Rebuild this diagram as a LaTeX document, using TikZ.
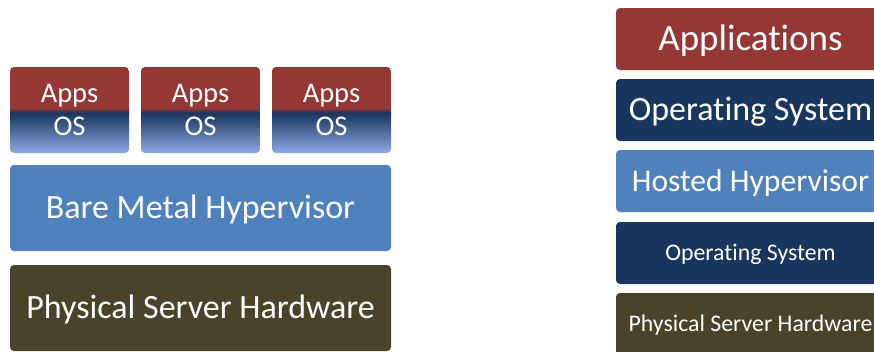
\documentclass[tikz,border=0pt]{standalone}
\usepackage{fontspec}
\setmainfont{Carlito}[RawFeature={-liga,-clig,-calt}]
\usetikzlibrary{positioning}

\definecolor{appsred}{RGB}{149,55,53}
\definecolor{osnavy}{RGB}{24,54,94}
\definecolor{hypblue}{RGB}{79,129,189}
\definecolor{hwolive}{RGB}{73,68,41}
\definecolor{vmlight}{RGB}{142,169,230}

\begin{document}
\begin{tikzpicture}[x=1pt,y=-1pt]

% Style for every layer of the two stacks, #1 = font size in pt
% (text height is the cap height, so the capitals sit in the middle)
\tikzset{layer/.style={rounded corners=4pt, text=white, inner sep=0pt,
  font=\fontsize{#1pt}{#1pt}\selectfont, text height=#1pt*0.644, text depth=0pt}}
\tikzset{vmtext/.style={text=white, anchor=base, inner sep=0pt,
  font=\fontsize{28.5pt}{28.5pt}\selectfont}}

\useasboundingbox (0,0) rectangle (874,351);
\clip (0,0) rectangle (874,351);

% One guest machine: Apps on top of its OS
\newcommand{\drawvm}[2]{
% #1 = left edge of the box
% #2 = suffix for the node names
\begin{scope}
\clip[rounded corners=4pt] (#1,67) rectangle ++(119,86);
\fill[appsred] (#1,67) rectangle ++(119,41);
\shade[top color=appsred, bottom color=osnavy] (#1,108) rectangle ++(119,5);
\shade[top color=osnavy, bottom color=vmlight] (#1,113) rectangle ++(119,40);
\end{scope}
\node[vmtext] (apps#2) at (#1+59.5,102) {Apps};
\node[vmtext] (os#2) at (#1+59.5,135) {OS};
} % End of \drawvm

% Bare metal stack (left)
\drawvm{10}{a}
\drawvm{141}{b}
\drawvm{272}{c}

\node[layer=34, fill=hypblue, minimum width=381pt, minimum height=86pt]
  (baremetal) at (200.5,208) {Bare Metal Hypervisor};
\node[layer=34, fill=hwolive, minimum width=381pt, minimum height=86pt]
  (hardware) at (200.5,308) {Physical Server Hardware};

% Hosted stack (right), runs off the edge
\node[layer=37, fill=appsred, minimum width=269pt, minimum height=62pt]
  (apps) at (750.5,39) {Applications};
\node[layer=34, fill=osnavy, minimum width=269pt, minimum height=62pt]
  (guestos) at (750.5,110) {Operating System};
\node[layer=31.6, fill=hypblue, minimum width=269pt, minimum height=62pt]
  (hosted) at (750.5,181) {Hosted Hypervisor};
\node[layer=23.8, fill=osnavy, minimum width=269pt, minimum height=62pt]
  (hostos) at (750.5,253) {Operating System};
\node[layer=23.8, fill=hwolive, minimum width=269pt, minimum height=62pt]
  (hosthw) at (750.5,324) {Physical Server Hardware};

\end{tikzpicture}
\end{document}
